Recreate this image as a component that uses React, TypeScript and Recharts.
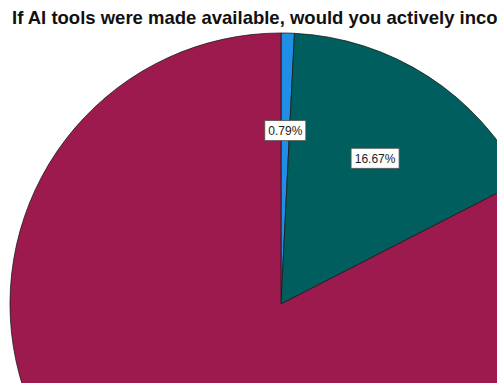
import React from 'react'
import { PieChart, Pie, Cell } from 'recharts'

const answers = ['Not sure', 'No', 'Yes']
const shares = [0.79, 16.67, 82.54]
const colors = ['#1f8fe5', '#005f5e', '#9c1a4e']
const shownLabels = [true, true, false]

const data = answers.map((name, i) => ({ name, value: shares[i] }))

const RAD = Math.PI / 180

const SliceLabel = ({ cx, cy, midAngle, outerRadius, index, value }: any) => {
  if (!shownLabels[index]) return null
  const r = outerRadius * 0.64
  const x = cx + r * Math.cos(-midAngle * RAD)
  const y = cy + r * Math.sin(-midAngle * RAD)
  const text = `${value.toFixed(2)}%`
  const w = text.length * 7 + 6
  return (
    <g>
      <rect x={x - w / 2} y={y - 10} width={w} height={20} fill="#fff" stroke="#555" strokeWidth={0.8} />
      <text x={x} y={y + 4.5} textAnchor="middle" fontSize={12} fill="#222" fontFamily="Liberation Sans, Arial, sans-serif">
        {text}
      </text>
    </g>
  )
}

export default function App() {
  return (
    <div style={{ position: 'fixed', left: 0, top: 0, width: 497, height: 383, overflow: 'hidden', background: '#fff' }}>
      <div style={{ position: 'absolute', left: 12, top: 7, whiteSpace: 'nowrap', fontFamily: 'Liberation Sans, Arial, sans-serif', fontWeight: 700, fontSize: 18.5, color: '#111', zIndex: 2 }}>
        If AI tools were made available, would you actively incorporate them into your teaching?
      </div>
      <PieChart width={497} height={383} margin={{ top: 0, right: 0, bottom: 0, left: 0 }}>
        <Pie
          data={data}
          dataKey="value"
          nameKey="name"
          cx={281}
          cy={304}
          outerRadius={271}
          startAngle={90}
          endAngle={-270}
          stroke="#1a1a1a"
          strokeWidth={0.8}
          label={SliceLabel}
          labelLine={false}
          isAnimationActive={false}
        >
          {data.map((d, i) => (
            <Cell key={d.name} fill={colors[i]} />
          ))}
        </Pie>
      </PieChart>
    </div>
  )
}
